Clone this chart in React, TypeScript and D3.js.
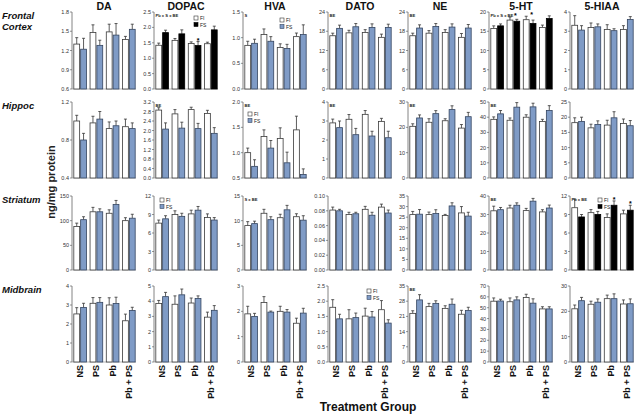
import React from "react";
import * as d3 from "d3";

const groups = ["NS", "PS", "Pb", "Pb + PS"];
const measures = ["DA", "DOPAC", "HVA", "DATO", "NE", "5-HT", "5-HIAA"];
const regions = [["Frontal", "Cortex"], ["Hippoc"], ["Striatum"], ["Midbrain"]];

// Frontal Cortex
const frontalFI = [[1.30, 1.48, 1.49, 1.37], [1.42, 1.58, 1.48, 1.47], [0.85, 1.06, 0.81, 1.02], [16.6, 17.5, 17.6, 16.1], [16.6, 17.4, 17.6, 16.1], [15.7, 17.9, 18.0, 16.0], [3.31, 3.19, 3.09, 3.09]];
const frontalFIErr = [[0.10, 0.12, 0.12, 0.05], [0.07, 0.06, 0.05, 0.05], [0.08, 0.11, 0.07, 0.07], [0.8, 0.8, 0.9, 1.0], [0.8, 0.8, 0.9, 1.2], [0.7, 0.8, 0.9, 0.6], [0.50, 0.24, 0.25, 0.20]];
const frontalFS = [[1.22, 1.28, 1.44, 1.53], [1.83, 1.79, 1.41, 1.92], [0.89, 0.93, 0.79, 1.06], [18.9, 19.4, 19.2, 19.2], [19.0, 19.5, 19.3, 19.0], [16.4, 17.6, 17.0, 18.3], [3.06, 3.23, 3.03, 3.61]];
const frontalFSErr = [[0.17, 0.08, 0.18, 0.08], [0.08, 0.13, 0.13, 0.12], [0.08, 0.09, 0.08, 0.19], [1.0, 1.0, 1.1, 1.0], [1.0, 0.9, 1.0, 1.1], [0.5, 0.5, 0.9, 0.7], [0.23, 0.15, 0.10, 0.15]];

// Hippocampus
const hippocFI = [[1.00, 0.98, 0.92, 0.94], [2.86, 2.70, 2.88, 2.72], [1.00, 1.32, 1.28, 1.45], [2.90, 3.09, 3.35, 2.98], [20.4, 22.0, 22.6, 19.7], [38.6, 38.0, 40.0, 37.2], [18.2, 16.5, 17.4, 17.9]];
const hippocFIErr = [[0.06, 0.07, 0.07, 0.08], [0.10, 0.18, 0.10, 0.13], [0.09, 0.13, 0.21, 0.27], [0.20, 0.25, 0.20, 0.16], [1.0, 1.4, 0.8, 1.4], [1.6, 1.5, 1.6, 1.4], [1.6, 1.2, 1.6, 1.5]];
const hippocFS = [[0.80, 1.02, 0.95, 0.92], [2.06, 2.10, 2.08, 1.88], [0.73, 1.09, 0.80, 0.57], [2.65, 2.28, 2.21, 2.12], [23.7, 25.4, 27.0, 24.2], [42.2, 46.6, 46.8, 44.4], [18.6, 17.6, 19.8, 17.2]];
const hippocFSErr = [[0.07, 0.08, 0.05, 0.06], [0.26, 0.25, 0.22, 0.24], [0.13, 0.15, 0.21, 0.11], [0.35, 0.33, 0.25, 0.34], [1.2, 1.2, 1.5, 1.7], [2.2, 3.0, 2.4, 3.2], [1.4, 1.2, 2.0, 1.7]];

// Striatum
const striatumFI = [[88, 118, 115, 100], [7.6, 9.0, 9.1, 8.5], [9.0, 11.5, 10.6, 10.8], [0.081, 0.075, 0.082, 0.085], [26.2, 26.2, 25.8, 27.0], [32.0, 33.5, 32.1, 31.4], [10.1, 9.3, 8.5, 9.1]];
const striatumFIErr = [[7, 9, 7, 6], [0.5, 0.6, 0.6, 0.6], [0.8, 0.8, 0.7, 0.6], [0.004, 0.003, 0.004, 0.004], [1.5, 1.2, 0.5, 3.0], [2.5, 1.5, 1.2, 1.2], [1.4, 0.5, 0.6, 0.6]];
const striatumFS = [[102, 118, 133, 105], [8.3, 8.7, 9.7, 8.1], [9.4, 10.2, 12.2, 10.1], [0.080, 0.076, 0.074, 0.077], [26.4, 26.7, 30.3, 25.5], [32.6, 35.0, 37.2, 33.5], [8.6, 9.0, 10.5, 9.7]];
const striatumFSErr = [[6, 6, 8, 8], [0.5, 0.5, 0.6, 0.4], [0.5, 0.6, 0.9, 0.9], [0.002, 0.002, 0.004, 0.004], [2.2, 1.8, 1.5, 1.8], [1.2, 1.3, 1.5, 1.6], [0.4, 0.5, 0.7, 0.8]];

// Midbrain
const midbrainFI = [[2.53, 3.09, 3.00, 2.17], [3.85, 3.80, 3.88, 2.95], [1.90, 2.35, 2.00, 1.53], [1.80, 1.42, 1.51, 1.72], [22.4, 25.5, 24.7, 22.0], [56.0, 55.5, 59.4, 48.9], [21.0, 22.8, 25.0, 22.9]];
const midbrainFIErr = [[0.33, 0.30, 0.38, 0.35], [0.20, 0.55, 0.33, 0.33], [0.30, 0.23, 0.20, 0.20], [0.25, 0.30, 0.26, 0.30], [1.2, 1.5, 1.2, 1.8], [3.0, 3.5, 3.0, 2.0], [1.5, 1.2, 1.4, 1.6]];
const midbrainFS = [[2.87, 3.14, 3.08, 2.71], [4.30, 4.42, 4.18, 3.40], [1.80, 1.97, 1.97, 1.93], [1.42, 1.46, 1.48, 1.28], [28.6, 27.0, 26.6, 23.7], [56.2, 57.2, 54.2, 48.9], [24.2, 23.6, 25.0, 23.0]];
const midbrainFSErr = [[0.22, 0.25, 0.33, 0.17], [0.28, 0.38, 0.17, 0.31], [0.12, 0.04, 0.10, 0.19], [0.15, 0.15, 0.18, 0.11], [2.4, 1.2, 2.4, 1.5], [1.6, 2.8, 4.0, 2.0], [1.3, 1.3, 1.9, 1.9]];

// axis ranges: [min, max, step]
const frontalAxes = [[0.6, 1.8, 0.3], [0, 2.5, 0.5], [0, 1.5, 0.5], [0, 24, 6], [0, 24, 6], [0, 20, 5], [0, 4, 1]];
const hippocAxes = [[0.4, 1.2, 0.4], [0, 3.2, 0.4], [0.5, 2.0, 0.5], [0, 4, 1], [0, 30, 10], [0, 50, 10], [0, 25, 5]];
const striatumAxes = [[0, 150, 50], [0, 12, 3], [0, 15, 5], [0, 0.1, 0.02], [0, 35, 5], [0, 40, 10], [0, 12, 3]];
const midbrainAxes = [[0, 4, 1], [0, 5, 1], [0, 3, 1], [0, 2.5, 0.5], [0, 35, 7], [0, 70, 10], [0, 30, 10]];

// [row, col, text]
const statLabels: [number, number, string][] = [
  [0, 1, "Pb x S x BE"], [0, 2, "S"], [0, 3, "BE"], [0, 4, "BE"], [0, 5, "Pb x S x BE"],
  [1, 1, "BE"], [1, 2, "BE"], [1, 3, "BE"], [1, 4, "BE"], [1, 5, "BE"],
  [2, 2, "S x BE"], [2, 5, "BE"], [2, 6, "Pb x BE"], [3, 4, "BE"],
];
// [row, col, group, series(0=FI,1=FS)]
const asterisks: [number, number, number, number][] = [
  [0, 1, 2, 1], [0, 5, 1, 0], [0, 5, 2, 0], [2, 6, 2, 1], [2, 6, 3, 1],
];
// panels with black FS bars [row, col]
const blackPanels: [number, number][] = [[0, 1], [0, 5], [2, 6]];
// legends [row, col, dx, dy]
const legends: [number, number, number, number][] = [
  [0, 1, 40, 4], [0, 2, 37, 6], [1, 2, 5, 10], [2, 1, 6, 2], [2, 6, 28, 2], [3, 3, 39, 3],
];

const rowData = [
  { fi: frontalFI, fiE: frontalFIErr, fs: frontalFS, fsE: frontalFSErr, axes: frontalAxes },
  { fi: hippocFI, fiE: hippocFIErr, fs: hippocFS, fsE: hippocFSErr, axes: hippocAxes },
  { fi: striatumFI, fiE: striatumFIErr, fs: striatumFS, fsE: striatumFSErr, axes: striatumAxes },
  { fi: midbrainFI, fiE: midbrainFIErr, fs: midbrainFS, fsE: midbrainFSErr, axes: midbrainAxes },
];

const W = 640, H = 415;
const colX = [72, 154, 243, 328, 408, 489, 570];
const rowTop = [12, 102, 196, 286];
const rowH = [77, 76, 74, 76];
const panelW = 64;
const FONT = "Liberation Sans, Arial, Helvetica, sans-serif";
const BLUE = "#7f9bc6";
const BLUE_STROKE = "#33445f";

function decimals(step: number) {
  const s = String(step);
  const i = s.indexOf(".");
  return i < 0 ? 0 : s.length - i - 1;
}

function Panel({ r, c }: { r: number; c: number }) {
  const rd = rowData[r];
  const [mn, mx, step] = rd.axes[c];
  const x0 = colX[c];
  const y0 = rowTop[r];
  const h = rowH[r];
  const y = d3.scaleLinear().domain([mn, mx]).range([y0 + h, y0]);
  const xb = d3.scaleBand<string>().domain(groups).range([x0 + 1, x0 + panelW]).paddingInner(0.22).paddingOuter(0.05);
  const bw = xb.bandwidth();
  const barW = (bw - 1) / 2;
  const dec = decimals(step);
  const ticks = d3.range(mn, mx + step / 2, step);
  const black = blackPanels.some(([a, b]) => a === r && b === c);
  const series = [
    { vals: rd.fi[c], errs: rd.fiE[c], fill: "#ffffff", stroke: "#3a3a3a" },
    { vals: rd.fs[c], errs: rd.fsE[c], fill: black ? "#000000" : BLUE, stroke: black ? "#000000" : BLUE_STROKE },
  ];
  const lbl = statLabels.find(([a, b]) => a === r && b === c);
  const leg = legends.find(([a, b]) => a === r && b === c);
  return (
    <g>
      <line x1={x0} x2={x0} y1={y0} y2={y0 + h} stroke="#666" strokeWidth={0.8} />
      <line x1={x0} x2={x0 + panelW} y1={y0 + h} y2={y0 + h} stroke="#888" strokeWidth={0.6} />
      {ticks.map((t, i) => (
        <g key={i}>
          <line x1={x0 - 2} x2={x0} y1={y(t)} y2={y(t)} stroke="#666" strokeWidth={0.7} />
          <text x={x0 - 3} y={y(t) + 2} fontSize={5.5} textAnchor="end" fill="#333" fontFamily={FONT}>
            {t.toFixed(dec)}
          </text>
        </g>
      ))}
      {groups.map((g, gi) =>
        series.map((s, si) => {
          const bx = (xb(g) as number) + si * (barW + 1);
          const v = s.vals[gi];
          const e = s.errs[gi];
          const top = y(v);
          const et = y(v + e);
          const cx = bx + barW / 2;
          return (
            <g key={g + si}>
              <line x1={cx} x2={cx} y1={top} y2={et} stroke="#333" strokeWidth={0.8} />
              <line x1={cx - 1.5} x2={cx + 1.5} y1={et} y2={et} stroke="#333" strokeWidth={0.8} />
              <rect x={bx} y={top} width={barW} height={y0 + h - top} fill={s.fill} stroke={s.stroke} strokeWidth={0.8} />
            </g>
          );
        })
      )}
      {asterisks
        .filter(([a, b]) => a === r && b === c)
        .map(([, , gi, si], i) => {
          const s = series[si];
          const bx = (xb(groups[gi]) as number) + si * (barW + 1);
          const ax = si === 0 ? bx + barW + 2.5 : bx + barW / 2;
          return (
            <text key={i} x={ax} y={y(s.vals[gi] + s.errs[gi]) + 1} fontSize={7} textAnchor="middle" fontFamily={FONT} fontWeight="bold">
              *
            </text>
          );
        })}
      {lbl && (
        <text x={x0 + 1.5} y={y0 + 5} fontSize={4.1} fontWeight="bold" fill="#222" fontFamily={FONT}>
          {lbl[2]}
        </text>
      )}
      {leg && (
        <g transform={`translate(${x0 + leg[2]},${y0 + leg[3]})`}>
          <rect x={0} y={0} width={4} height={4} fill="#fff" stroke="#333" strokeWidth={0.6} />
          <text x={6} y={4} fontSize={5} fill="#222" fontFamily={FONT}>FI</text>
          <rect x={0} y={6.5} width={4} height={4} fill={black ? "#000" : BLUE} stroke={black ? "#000" : BLUE_STROKE} strokeWidth={0.6} />
          <text x={6} y={10.5} fontSize={5} fill="#222" fontFamily={FONT}>FS</text>
        </g>
      )}
    </g>
  );
}

export default function App() {
  return (
    <svg width={W} height={H} style={{ position: "absolute", left: 0, top: 0, background: "#fff" }} fontFamily={FONT}>
      <rect width={W} height={H} fill="#fff" />
      {measures.map((m, c) => (
        <text key={m} x={colX[c] + panelW / 2} y={10} textAnchor="middle" fontSize={10.5} fontWeight="bold" fill="#111">
          {m}
        </text>
      ))}
      {regions.map((lines, r) =>
        lines.map((t, li) => (
          <text key={t} x={2} y={rowTop[r] + 7 + li * 10.5} fontSize={9.5} fontWeight="bold" fontStyle="italic" fill="#111">
            {t}
          </text>
        ))
      )}
      <text transform="translate(55,182) rotate(-90)" textAnchor="middle" fontSize={11} fontWeight="bold" fill="#222">
        ng/mg protein
      </text>
      {rowData.map((_, r) => measures.map((_, c) => <Panel key={r + "-" + c} r={r} c={c} />))}
      {measures.map((_, c) => {
        const xb = d3.scaleBand<string>().domain(groups).range([colX[c] + 1, colX[c] + panelW]).paddingInner(0.22).paddingOuter(0.05);
        return groups.map((g) => (
          <text key={c + g} transform={`translate(${(xb(g) as number) + xb.bandwidth() / 2 + 3},${rowTop[3] + rowH[3] + 3}) rotate(-90)`} textAnchor="end" fontSize={9} fontWeight="bold" fill="#111">
            {g}
          </text>
        ));
      })}
      <text x={368} y={411} textAnchor="middle" fontSize={12} fontWeight="bold" fill="#111">
        Treatment Group
      </text>
    </svg>
  );
}
